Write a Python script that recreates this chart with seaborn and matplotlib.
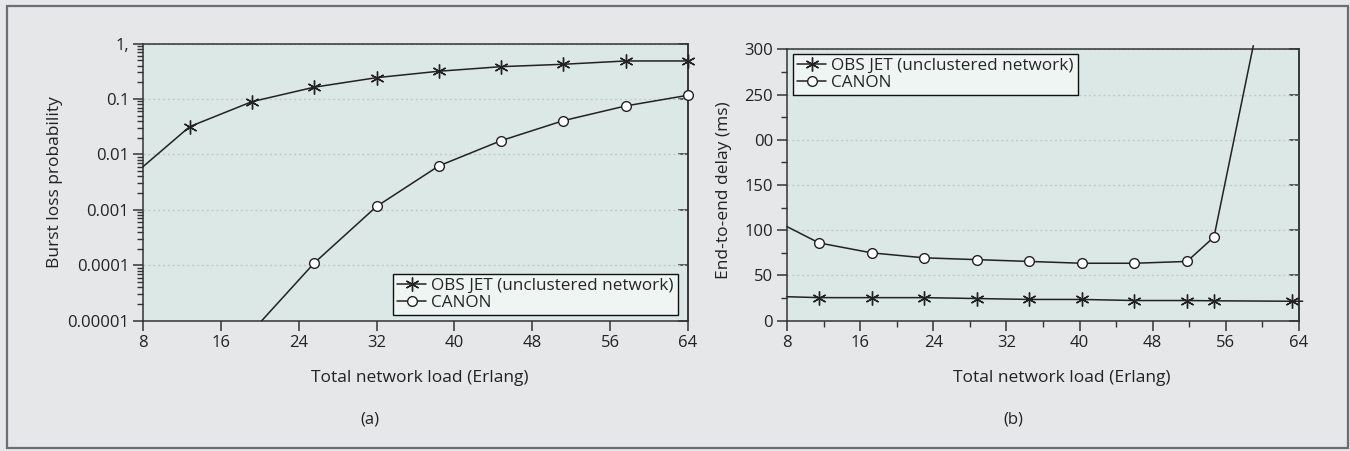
import numpy as np
import pandas as pd
import matplotlib
matplotlib.use("Agg")
import matplotlib.pyplot as plt
from matplotlib.lines import Line2D
from matplotlib.patches import Rectangle
from matplotlib.ticker import FixedLocator, NullFormatter, NullLocator, LogLocator
import seaborn as sns

# ---------------- data ----------------
# panel (a): burst loss probability (log scale)
a_obs_x = [8, 12.8, 19.2, 25.6, 32, 38.4, 44.8, 51.2, 57.6, 64]
a_obs_y = [0.006, 0.0317, 0.0894, 0.163, 0.242, 0.316, 0.382, 0.422, 0.484, 0.484]
a_obs_mark = [False, True, True, True, True, True, True, True, True, True]

a_can_x = [20.2, 25.6, 32, 38.4, 44.8, 51.2, 57.6, 64]
a_can_y = [1e-5, 1.1e-4, 0.00115, 0.0062, 0.0177, 0.0406, 0.0748, 0.1166]
a_can_mark = [False, True, True, True, True, True, True, True]

# panel (b): end-to-end delay (ms)
b_obs_x = [8, 11.5, 17.25, 23, 28.75, 34.5, 40.25, 46, 51.75, 54.7, 63.2, 64.4]
b_obs_y = [26.5, 25.5, 25.5, 25.5, 24.5, 23.5, 23.5, 22.3, 22.3, 22.0, 21.5, 21.5]
b_obs_mark = [False, True, True, True, True, True, True, True, True, True, True, False]

b_can_x = [8, 11.5, 17.25, 23, 28.75, 34.5, 40.25, 46, 51.75, 54.7, 59]
b_can_y = [104, 86, 75, 69.5, 67.5, 65.5, 63.5, 63.5, 65.5, 92.5, 304]
b_can_mark = [False, True, True, True, True, True, True, True, True, True, False]

x_ticks = [8, 16, 24, 32, 40, 48, 56, 64]
a_yticks = [1, 0.1, 0.01, 0.001, 0.0001, 0.00001]
a_ylabels = ["1,", "0.1", "0.01", "0.001", "0.0001", "0.00001"]
b_yticks = [0, 50, 100, 150, 200, 250, 300]
b_ylabels = ["0", "50", "100", "150", "00", "250", "300"]

labels = ["OBS JET (unclustered network)", "CANON"]
xlabel = "Total network load (Erlang)"
a_ylabel = "Burst loss probability"
b_ylabel = "End-to-end delay (ms)"

# ---------------- style ----------------
sns.set_theme(style="ticks")
plt.rcParams["font.family"] = ["Open Sans", "DejaVu Sans"]

FIG_BG = "#e6e7e8"
AX_BG = "#dce8e5"
LEG_BG = "#eef5f3"
INK = "#222222"
GRID = "#c2cac8"
FS = 12
LFS = 12.5

W, H = 1350, 451
fig = plt.figure(figsize=(W / 100, H / 100), dpi=100, facecolor=FIG_BG)

def ax_rect(x0, y0, x1, y1):
    return [x0 / W, 1 - y1 / H, (x1 - x0) / W, (y1 - y0) / H]

axA = fig.add_axes(ax_rect(143, 43.5, 688, 320.7))
axB = fig.add_axes(ax_rect(787, 49.3, 1299, 320.7))

star = (6, 2, 0)
star_kw = dict(marker=star, markersize=10, markeredgewidth=1.0, color=INK,
               markeredgecolor=INK, markerfacecolor=INK)
circ_kw = dict(marker="o", markersize=7, markeredgewidth=1.0, markerfacecolor="white",
               markeredgecolor=INK, color=INK)


def draw_series(ax, xs, ys, mark, mkw):
    df = pd.DataFrame({"x": xs, "y": ys, "m": mark})
    sns.lineplot(data=df, x="x", y="y", ax=ax, color=INK, lw=1.1, sort=False,
                 estimator=None, clip_on=False, zorder=3)
    dm = df[df["m"]]
    sns.lineplot(data=dm, x="x", y="y", ax=ax, linestyle="", sort=False,
                 estimator=None, clip_on=False, zorder=4, **mkw)


for ax in (axA, axB):
    ax.set_facecolor(AX_BG)
    for s in ax.spines.values():
        s.set_color("#333333")
        s.set_linewidth(1.1)
        s.set_visible(True)

# ----- panel (a) -----
axA.set_yscale("log")
draw_series(axA, a_obs_x, a_obs_y, a_obs_mark, star_kw)
draw_series(axA, a_can_x, a_can_y, a_can_mark, circ_kw)
axA.set_xlim(8, 64)
axA.set_ylim(1e-5, 1)
axA.set_xticks(x_ticks)
axA.set_xticklabels([str(t) for t in x_ticks])
axA.set_yticks(a_yticks)
axA.set_yticklabels(a_ylabels)
axA.yaxis.set_minor_locator(LogLocator(base=10, subs=np.arange(2, 10)))
axA.yaxis.set_minor_formatter(NullFormatter())
axA.xaxis.set_minor_locator(NullLocator())

# ----- panel (b) -----
draw_series(axB, b_obs_x, b_obs_y, b_obs_mark, star_kw)
draw_series(axB, b_can_x, b_can_y, b_can_mark, circ_kw)
axB.set_xlim(8, 64)
axB.set_ylim(0, 300)
axB.set_xticks(x_ticks)
axB.set_xticklabels([str(t) for t in x_ticks])
axB.set_yticks(b_yticks)
axB.set_yticklabels(b_ylabels)
axB.xaxis.set_minor_locator(FixedLocator(np.arange(12, 64, 8)))
axB.yaxis.set_minor_locator(FixedLocator(np.arange(25, 300, 50)))

for ax, yt in ((axA, a_yticks), (axB, b_yticks)):
    ax.tick_params(axis="both", which="major", direction="out", length=7, width=1.1,
                   color="#333333", labelsize=FS, labelcolor=INK, pad=3)
    ax.tick_params(axis="both", which="minor", direction="out", length=4, width=1.0,
                   color="#333333")
    ax.yaxis.grid(True, which="major", linestyle=(0, (1.5, 2.0)), color=GRID, lw=1.0)
    ax.xaxis.grid(False)
    ax.set_axisbelow(True)
    sec = ax.secondary_yaxis("right")
    sec.set_yticks(yt)
    sec.yaxis.set_minor_locator(NullLocator())
    sec.tick_params(axis="y", which="major", direction="in", length=7, width=1.1,
                    color="#333333", labelright=False)
    sec.spines["right"].set_color("#333333")
    sec.spines["right"].set_linewidth(1.1)

# axis labels
axA.set_xlabel(xlabel, fontsize=LFS, color=INK, va="center")
axA.xaxis.set_label_coords((420 - 143) / 545, (320.7 - 378) / 277.2)
axA.set_ylabel(a_ylabel, fontsize=LFS, color=INK, va="center")
axA.yaxis.set_label_coords((55 - 143) / 545, 0.5)

axB.set_xlabel(xlabel, fontsize=LFS, color=INK, va="center")
axB.xaxis.set_label_coords((1062 - 787) / 512, (320.7 - 378) / 271.4)
axB.set_ylabel(b_ylabel, fontsize=LFS, color=INK, va="center")
axB.yaxis.set_label_coords((724 - 787) / 512, 0.48)

# legends
handles = [Line2D([], [], lw=1.1, **star_kw), Line2D([], [], lw=1.1, **circ_kw)]
leg_kw = dict(fontsize=12.3, frameon=True, fancybox=False, framealpha=1,
              facecolor=LEG_BG, edgecolor="#111111", borderaxespad=0,
              handlelength=1.7, handletextpad=0.3, labelspacing=0.05, borderpad=0.25)
lgA = axA.legend(handles, labels, loc="lower right",
                 bbox_to_anchor=((678 - 143) / 545, (320.7 - 315) / 277.2), **leg_kw)
lgB = axB.legend(handles, labels, loc="upper left",
                 bbox_to_anchor=((793 - 787) / 512, (320.7 - 54) / 271.4), **leg_kw)
for lg in (lgA, lgB):
    lg.get_frame().set_linewidth(1.0)
    lg.set_zorder(10)

# panel captions
fig.text(369.6 / W, 1 - 420 / H, "(a)", fontsize=FS, color=INK, ha="center", va="center")
fig.text(1013 / W, 1 - 420 / H, "(b)", fontsize=FS, color=INK, ha="center", va="center")

# outer frame
fig.patches.append(Rectangle((7 / W, 1 - 448 / H), (1348 - 7) / W, (448 - 5.5) / H,
                             transform=fig.transFigure, fill=False,
                             edgecolor="#6d6e71", lw=1.6))

fig.savefig("out.png", dpi=100, facecolor=FIG_BG)
